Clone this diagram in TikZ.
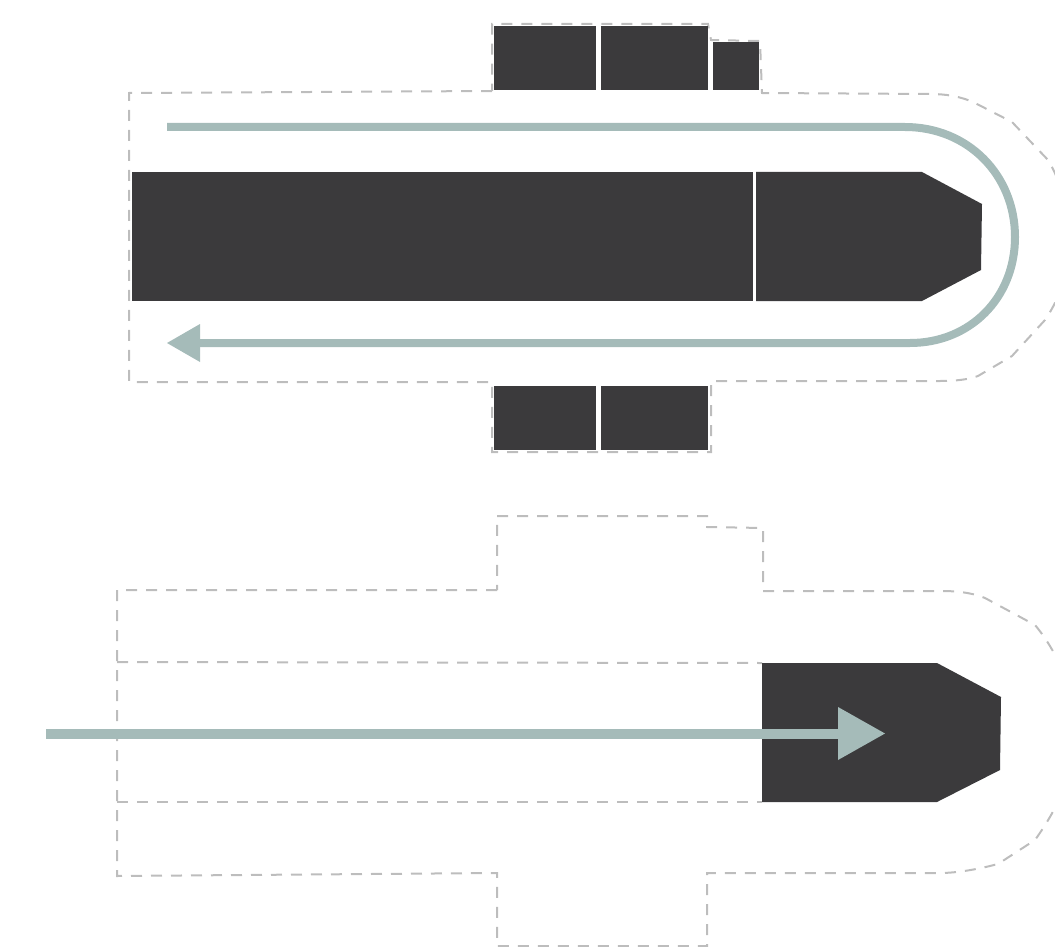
\documentclass[tikz,border=0pt]{standalone}
\definecolor{darkfill}{HTML}{3B3A3C}
\definecolor{sage}{HTML}{A5BBB9}
\definecolor{dashgray}{HTML}{BDBDBD}
\tikzset{
  solidpart/.style={fill=darkfill,draw=none},
  outline/.style={draw=dashgray,line width=2pt,dash pattern=on 11pt off 9pt},
  flowline/.style={draw=sage,line width=8pt},
  flowhead/.style={fill=sage,draw=none}
}
\begin{document}
\begin{tikzpicture}[x=1pt,y=-1pt]
\useasboundingbox (0,0) rectangle (1055,947);
\clip (0,0) rectangle (1055,947);
% top: dashed outline
\draw[outline] (492,91) -- (129,93) -- (129,382) -- (492,382) -- (492,452) -- (711,452) -- (711,381) -- (940,381)
  .. controls (958,381) and (970,379) .. (978,376) -- (1012,356) -- (1045,320)
  .. controls (1062,295) and (1068,270) .. (1068,238)
  .. controls (1068,205) and (1060,180) .. (1048,160) -- (1012,122) -- (975,103)
  .. controls (960,96) and (945,94) .. (930,94) -- (762,93) -- (760,41) -- (711,40) -- (708,24) -- (492,24) -- cycle;
% top: solid parts
\fill[solidpart] (132,172) rectangle (753,301);
\fill[solidpart] (756,172) -- (922,172) -- (982,204) -- (981,270) -- (922,301) -- (756,301) -- cycle;
\fill[solidpart] (494,26) rectangle (596,90);
\fill[solidpart] (601,26) rectangle (708,90);
\fill[solidpart] (713,42) rectangle (759,90);
\fill[solidpart] (494,386) rectangle (596,450);
\fill[solidpart] (601,386) rectangle (708,450);
% top: flow
\draw[flowline] (167,127) -- (905,127)
  .. controls (968,127) and (1015,175) .. (1015,237)
  .. controls (1015,298) and (970,343) .. (910,343) -- (198,343);
\fill[flowhead] (167,343) -- (200,324) -- (200,362) -- cycle;
% bottom: dashed outline
\draw[outline] (497,590) -- (117,590) -- (117,876) -- (497,873) -- (497,946) -- (707,946) -- (707,873) -- (940,873)
  .. controls (955,873) and (975,870) .. (998,864) -- (1035,840)
  .. controls (1060,805) and (1075,770) .. (1075,733)
  .. controls (1075,695) and (1060,655) .. (1035,625) -- (985,598)
  .. controls (970,592) and (955,591) .. (940,591) -- (763,591) -- (763,528) -- (707,527) -- (707,516) -- (497,516) -- cycle;
\draw[outline] (117,662) -- (762,663);
\draw[outline] (117,802) -- (762,802);
% bottom: solid part
\fill[solidpart] (762,663) -- (937,663) -- (1001,697) -- (1000,770) -- (937,802) -- (762,802) -- cycle;
% bottom: flow
\draw[flowline,line width=10pt] (46,733.5) -- (840,733.5);
\fill[flowhead] (838,707) -- (885,733.5) -- (838,760) -- cycle;
\end{tikzpicture}
\end{document}
